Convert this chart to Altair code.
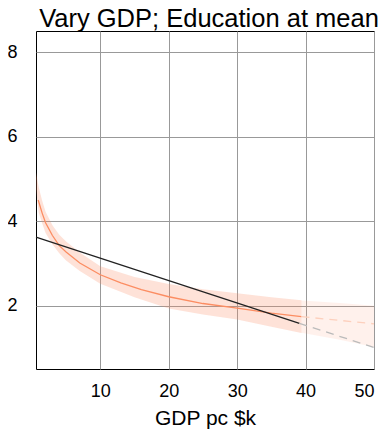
import altair as alt
import pandas as pd

# Fitted curve (GDP varied, education at mean), observed range
fit_x = [0.92, 1.5, 2, 3, 4, 5, 7, 10, 13, 16, 20, 25, 30, 35, 39.4]
fit_y = [4.5, 4.19, 3.96, 3.66, 3.42, 3.27, 3.01, 2.73, 2.54, 2.38, 2.21, 2.05, 1.94, 1.82, 1.74]

# Confidence band over observed range
band_x = [0.6, 1, 1.5, 2, 3, 4, 5, 7, 10, 15, 20, 25, 30, 35, 39.4]
band_hi = [5.15, 4.8, 4.48, 4.22, 3.9, 3.68, 3.52, 3.26, 2.93, 2.68, 2.51, 2.39, 2.29, 2.2, 2.13]
band_lo = [4.75, 4.2, 3.95, 3.72, 3.45, 3.24, 3.07, 2.82, 2.52, 2.2, 1.93, 1.79, 1.67, 1.5, 1.35]

# Extrapolated part (beyond observed GDP)
ext_x = [39.4, 45, 50]
ext_hi = [2.12, 2.06, 2.0]
ext_lo = [1.36, 1.19, 1.02]
ext_fit_x = [39.4, 50]
ext_fit_y = [1.74, 1.57]

# Linear fit
lin_x = [0.6, 39.1]
lin_y = [3.62, 1.58]
lin_ext_x = [39.1, 50]
lin_ext_y = [1.58, 1.01]

x_ticks = [10, 20, 30, 40, 50]
y_ticks = [2, 4, 6, 8]

XD = [0.6, 50]
YD = [0.5, 8.5]

ORANGE = "#fc8d62"

df_fit = pd.DataFrame({"x": fit_x, "y": fit_y})
df_band = pd.DataFrame({"x": band_x, "hi": band_hi, "lo": band_lo})
df_ext = pd.DataFrame({"x": ext_x, "hi": ext_hi, "lo": ext_lo})
df_extfit = pd.DataFrame({"x": ext_fit_x, "y": ext_fit_y})
df_lin = pd.DataFrame({"x": lin_x, "y": lin_y})
df_linext = pd.DataFrame({"x": lin_ext_x, "y": lin_ext_y})

xs = alt.Scale(domain=XD, nice=False, zero=False)
ys = alt.Scale(domain=YD, nice=False, zero=False)
xax = alt.Axis(values=x_ticks, title="GDP pc $k", grid=True)
yax = alt.Axis(values=y_ticks, title=None, grid=True)

band = alt.Chart(df_band).mark_area(color=ORANGE, opacity=0.25).encode(
    x=alt.X("x:Q", scale=xs, axis=xax),
    y=alt.Y("hi:Q", scale=ys, axis=yax),
    y2="lo:Q",
)
ext_band = alt.Chart(df_ext).mark_area(color=ORANGE, opacity=0.12).encode(
    x=alt.X("x:Q", scale=xs), y=alt.Y("hi:Q", scale=ys), y2="lo:Q"
)
fit = alt.Chart(df_fit).mark_line(color=ORANGE, strokeWidth=1.3).encode(
    x=alt.X("x:Q", scale=xs), y=alt.Y("y:Q", scale=ys)
)
ext_fit = alt.Chart(df_extfit).mark_line(color="#fdd0bd", strokeWidth=1.3, strokeDash=[8, 6]).encode(
    x=alt.X("x:Q", scale=xs), y=alt.Y("y:Q", scale=ys)
)
lin = alt.Chart(df_lin).mark_line(color="#222222", strokeWidth=1.3).encode(
    x=alt.X("x:Q", scale=xs), y=alt.Y("y:Q", scale=ys)
)
lin_ext = alt.Chart(df_linext).mark_line(color="#bbbbbb", strokeWidth=1.3, strokeDash=[8, 6]).encode(
    x=alt.X("x:Q", scale=xs), y=alt.Y("y:Q", scale=ys)
)

chart = (
    alt.layer(band, ext_band, fit, ext_fit, lin, lin_ext)
    .properties(
        width=338,
        height=338,
        title=alt.TitleParams(
            "Vary GDP; Education at mean",
            fontSize=25.5,
            font="Liberation Sans",
            fontWeight="normal",
            color="#000",
            anchor="middle",
            frame="group",
            offset=-1,
            dx=4,
        ),
        autosize=alt.AutoSizeParams(type="none"),
        padding={"left": 28, "top": 23, "right": 6, "bottom": 60},
    )
    .configure_view(stroke="#000000", strokeWidth=1)
    .configure_axis(
        domain=False,
        ticks=False,
        gridColor="#999999",
        gridWidth=1,
        gridOpacity=1,
        labelFont="Liberation Sans",
        labelFontSize=18,
        labelColor="#000",
        titleFont="Liberation Sans",
        titleFontSize=21,
        titleFontWeight="normal",
        titleColor="#000",
    )
    .configure_axisX(labelPadding=13, titlePadding=7)
    .configure_axisY(labelPadding=19)
)

chart.save("out.html", embed_options={"renderer": "svg", "actions": False})
